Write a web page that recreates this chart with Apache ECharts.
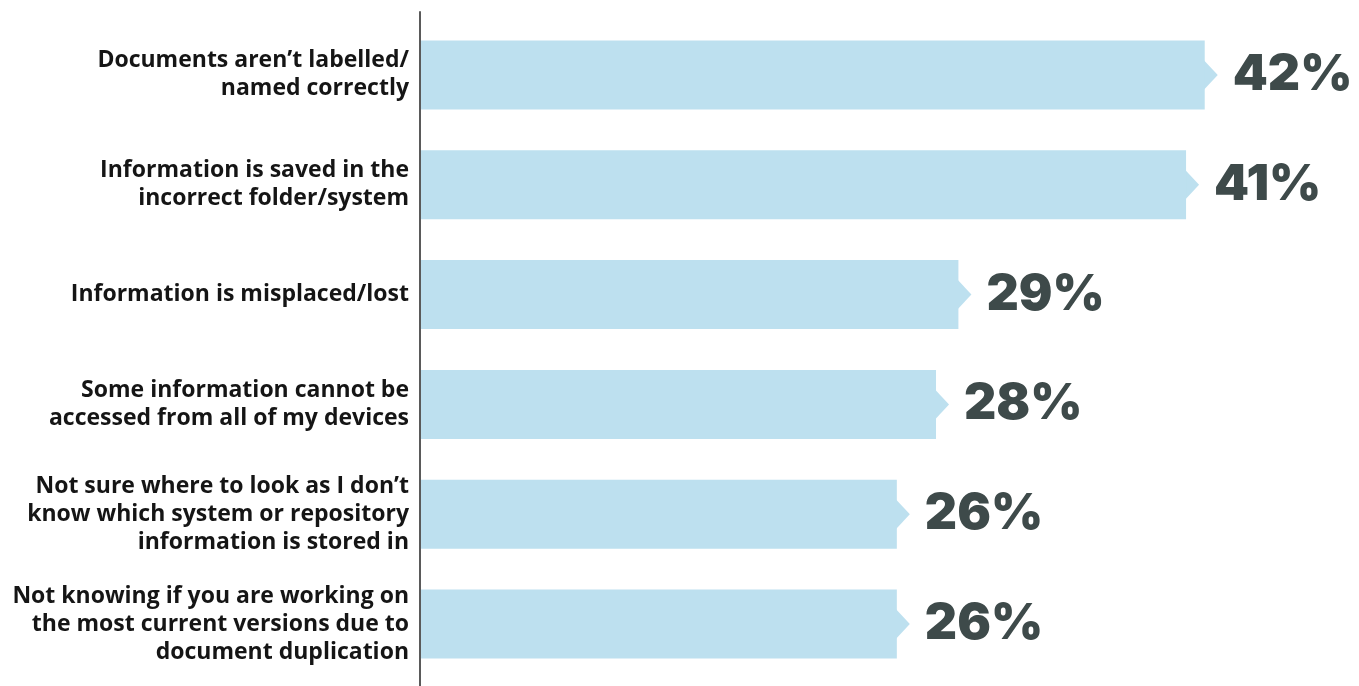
<!DOCTYPE html>
<html>
<head>
<meta charset="utf-8">
<script src="https://cdn.jsdelivr.net/npm/echarts@6/dist/echarts.min.js"></script>
<style>
html,body{margin:0;padding:0;background:#fff;}
#main{width:1359px;height:686px;}
</style>
</head>
<body>
<div id="main"></div>
<script>
const categories = [
  "Documents aren\u2019t labelled/\nnamed correctly",
  "Information is saved in the\nincorrect folder/system",
  "Information is misplaced/lost",
  "Some information cannot be\naccessed from all of my devices",
  "Not sure where to look as I don\u2019t\nknow which system or repository\ninformation is stored in",
  "Not knowing if you are working on\nthe most current versions due to\ndocument duplication"
];
const values = [42, 41, 28.8, 27.6, 25.5, 25.5];

const chart = echarts.init(document.getElementById('main'));
const arrowData = values.map((v, i) => [v, i]);

chart.setOption({
  animation: false,
  grid: [
    { left: 421, right: 5, top: 20, bottom: 7 },
    { left: 420, right: 5, top: 12, bottom: 0 }
  ],
  xAxis: [
    { gridIndex: 0, type: 'value', min: 0, max: 50, show: false },
    { gridIndex: 1, type: 'value', min: 0, max: 50, show: false }
  ],
  yAxis: [
    {
      gridIndex: 0, type: 'category', data: categories, inverse: true,
      axisLine: { show: false }, axisTick: { show: false },
      axisLabel: {
        margin: 12, color: '#151515', fontFamily: 'Open Sans', fontWeight: 'bold',
        fontSize: 23, lineHeight: 28, align: 'right'
      }
    },
    {
      gridIndex: 1, type: 'category', data: ['a'],
      axisLine: { show: true, lineStyle: { color: '#5a5a5a', width: 2 } },
      axisTick: { show: false }, axisLabel: { show: false }
    }
  ],
  series: [
    {
      type: 'bar', xAxisIndex: 0, yAxisIndex: 0, data: values, barWidth: 69,
      itemStyle: { color: '#bde0ef' },
      label: {
        show: true, position: 'right', distance: 28,
        formatter: p => Math.round(p.value) + '%',
        fontFamily: 'Inter', fontWeight: 900, fontSize: 50, color: '#3e4a4a'
      }
    },
    {
      type: 'custom', xAxisIndex: 0, yAxisIndex: 0, data: arrowData,
      encode: { x: 0, y: 1 },
      renderItem: function (params, api) {
        const p = api.coord([api.value(0), api.value(1)]);
        return {
          type: 'polygon',
          shape: { points: [[p[0] - 1, p[1] - 15], [p[0] + 13, p[1]], [p[0] - 1, p[1] + 15]] },
          style: { fill: '#bde0ef' }
        };
      }
    }
  ]
});
</script>
</body>
</html>
